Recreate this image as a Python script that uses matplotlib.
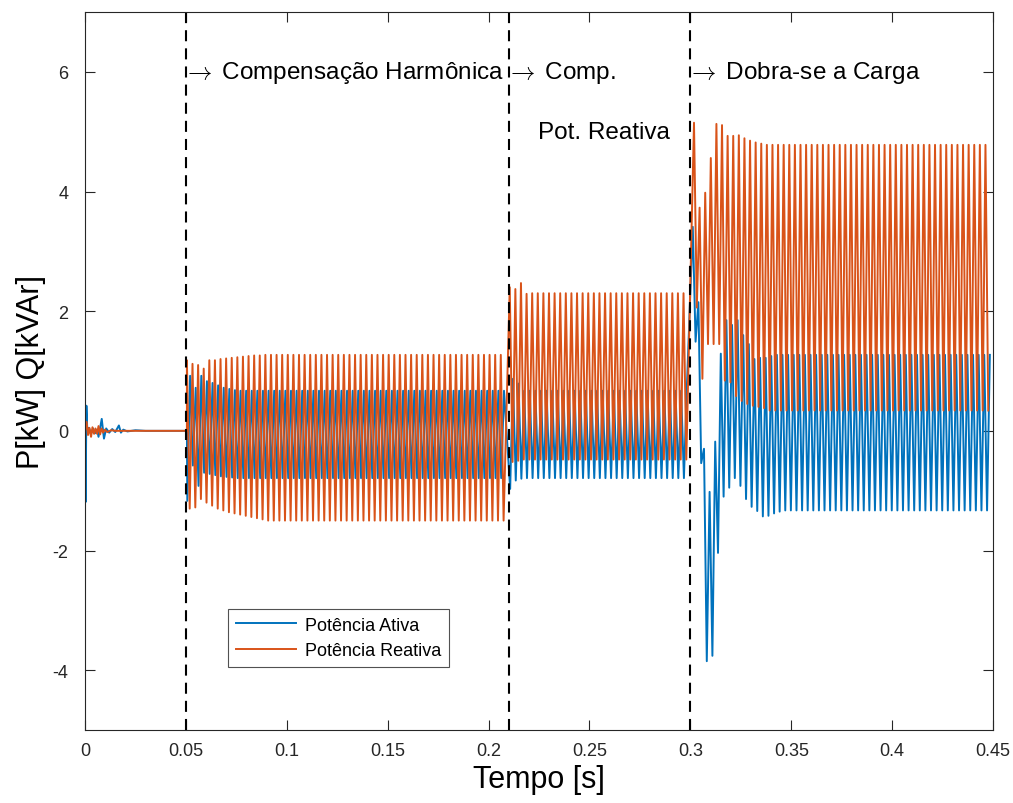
"""
plot.py - Potência ativa / reativa do filtro ativo (recriação do gráfico MATLAB).
"""
import numpy as np
import matplotlib
matplotlib.use("Agg")
import matplotlib.pyplot as plt

# --- Estilo ---
plt.rcParams.update({
    "font.family": ["Liberation Sans", "DejaVu Sans"],
    "axes.unicode_minus": False,
    "mathtext.fontset": "cm",
})
BLUE = "#0072BD"
ORANGE = "#D95319"

# --- Dados ---
FREQ = 360.0                         # oscilação visível nos traços [Hz]
EVENTS = [0.05, 0.21, 0.30]          # instantes das linhas tracejadas [s]
T_END = 0.45

# trecho inicial (0 - 0.05 s): pontos explícitos
p0_t = [0, 0.0003, 0.0007, 0.0012, 0.002, 0.003, 0.004, 0.005, 0.006, 0.0067,
        0.0075, 0.0083, 0.0094, 0.0105, 0.012, 0.0135, 0.015, 0.0168, 0.0178,
        0.019, 0.021, 0.025, 0.03, 0.04, 0.0505]
p0_v = [0, -1.19, 0.42, -0.05, 0.05, -0.05, 0.04, -0.04, 0.02, -0.1,
        0.05, 0.2, -0.13, 0.04, -0.03, 0.03, -0.02, 0.09, -0.03,
        0.02, -0.01, 0.01, 0, 0, 0]
q0_t = [0, 0.0008, 0.0015, 0.0022, 0.003, 0.0037, 0.0045, 0.0052, 0.006, 0.0067,
        0.0075, 0.0082, 0.009, 0.0098, 0.011, 0.013, 0.015, 0.02, 0.03, 0.0505]
q0_v = [0, 0.15, -0.07, 0.05, -0.1, 0.06, -0.05, 0.04, -0.05, 0.08,
        -0.06, 0.04, -0.03, 0.02, -0.02, 0.01, 0.0, 0.0, 0, 0]

# picos/vales sucessivos (meio período entre eles) + nível em regime
p1_start, p1_steady, p1_t0 = [-1.17, 0.92, -0.58, 0.72, -0.92, 0.92, -0.7, 0.83,
                              -0.72, 0.8, -0.74, 0.76, -0.76, 0.72, -0.77, 0.7,
                              -0.78, 0.68], (-0.79, 0.67), 0.0507
q1_start, q1_steady, q1_t0 = [1.18, -1.3, 1.12, -1.28, 1.1, -1.14, 1.04, -1.2,
                              1.18, -1.25, 1.18, -1.3, 1.2, -1.33, 1.21, -1.36,
                              1.22, -1.38, 1.23, -1.4, 1.24, -1.42, 1.25, -1.44,
                              1.26, -1.46, 1.26, -1.48], (1.27, -1.5), 0.0505

p2_start, p2_steady, p2_t0 = [-0.97, 0.87, -0.83, 0.79, -0.8, 0.67], (-0.79, 0.67), 0.2107
q2_start, q2_steady, q2_t0 = [2.4, -0.52, 2.37, -0.5, 2.47, -0.48, 2.29, -0.48,
                              2.3], (2.3, -0.48), 0.2105

p3_start, p3_steady, p3_t0 = [3.41, 1.49, 2.15, -0.54, -0.3, -3.85, -1.02, -3.76,
                              -0.18, -2.04, 1.29, -1.1, 1.85, -0.95, 1.77, -0.79,
                              1.85, -0.92, 1.6, -1.14, 1.45, -1.27, 1.2, -1.34,
                              1.22, -1.43, 1.22, -1.42, 1.25, -1.38, 1.27, -1.35],\
                             (1.27, -1.33), 0.3012
q3_start, q3_steady, q3_t0 = [5.15, 2.06, 3.73, 0.87, 3.98, 1.45, 4.56, 1.45,
                              5.13, 1.45, 5.11, 0.84, 4.93, 0.81, 4.93, 0.58,
                              4.94, 0.5, 4.89, 0.45, 4.85, 0.42, 4.82, 0.4,
                              4.8, 0.38], (4.78, 0.34), 0.3018

LABELS = [r"$\rightarrow\;$Compensação Harmônica", r"$\rightarrow\;$Comp.",
          r"$\rightarrow\;$Dobra-se a Carga"]


def segment(start, steady, t0, t1):
    """Sequência de picos e vales, meio período entre eles."""
    n = int((t1 - t0) * 2 * FREQ)
    vals = list(start) + [steady[k % 2] for k in range(len(start), n)]
    t = t0 + np.arange(n) / (2 * FREQ)
    return list(t), vals[:n]


def series(t_init, v_init, segs):
    t, v = list(t_init), list(v_init)
    ends = EVENTS[1:] + [T_END]
    for (start, steady, t0), t1 in zip(segs, ends):
        ts, vs = segment(start, steady, t0, t1)
        t += ts; v += vs
    return np.array(t), np.array(v)


tp, vp = series(p0_t, p0_v, [(p1_start, p1_steady, p1_t0),
                             (p2_start, p2_steady, p2_t0),
                             (p3_start, p3_steady, p3_t0)])
tq, vq = series(q0_t, q0_v, [(q1_start, q1_steady, q1_t0),
                             (q2_start, q2_steady, q2_t0),
                             (q3_start, q3_steady, q3_t0)])

# --- Figura ---
fig = plt.figure(figsize=(10.13, 8.04), dpi=100)
ax = fig.add_axes([0.0839, 0.0908, 0.8964, 0.8930])

ax.plot(tp, vp, color=BLUE, lw=1.4, label="Potência Ativa")
ax.plot(tq, vq, color=ORANGE, lw=1.4, label="Potência Reativa")
for x in EVENTS:
    ax.axvline(x, color="black", lw=1.5, dashes=(5.3, 3.4))

for x, lab in zip(EVENTS, LABELS):
    ax.text(x - 0.0015, 6, lab, fontsize=17.5, va="center", ha="left")
ax.text(0.257, 5.0, "Pot. Reativa", fontsize=17.5, va="center", ha="center")

ax.set_xlim(0, T_END)
ax.set_ylim(-5, 7)
ax.set_xticks([0, 0.05, 0.1, 0.15, 0.2, 0.25, 0.3, 0.35, 0.4, 0.45])
ax.set_xticklabels(["0", "0.05", "0.1", "0.15", "0.2", "0.25", "0.3", "0.35", "0.4", "0.45"])
ax.set_yticks([-4, -2, 0, 2, 4, 6])
ax.tick_params(direction="in", length=7, width=0.8, top=True, right=True,
               labelsize=13, colors="#262626")
ax.tick_params(axis="x", pad=9)
ax.tick_params(axis="y", pad=12)
for s in ax.spines.values():
    s.set_color("#262626"); s.set_linewidth(0.8)

ax.set_xlabel("Tempo [s]", fontsize=22, labelpad=3)
ax.set_ylabel("P[kW] Q[kVAr]", fontsize=22, labelpad=5)

leg = ax.legend(loc="lower left", bbox_to_anchor=(0.1575, 0.0877), fontsize=13,
                frameon=True, fancybox=False, edgecolor="#262626",
                borderpad=0.45, handlelength=3.3, handletextpad=0.5,
                labelspacing=0.45, borderaxespad=0)
leg.get_frame().set_linewidth(0.8)

fig.savefig("out.png", dpi=100)
